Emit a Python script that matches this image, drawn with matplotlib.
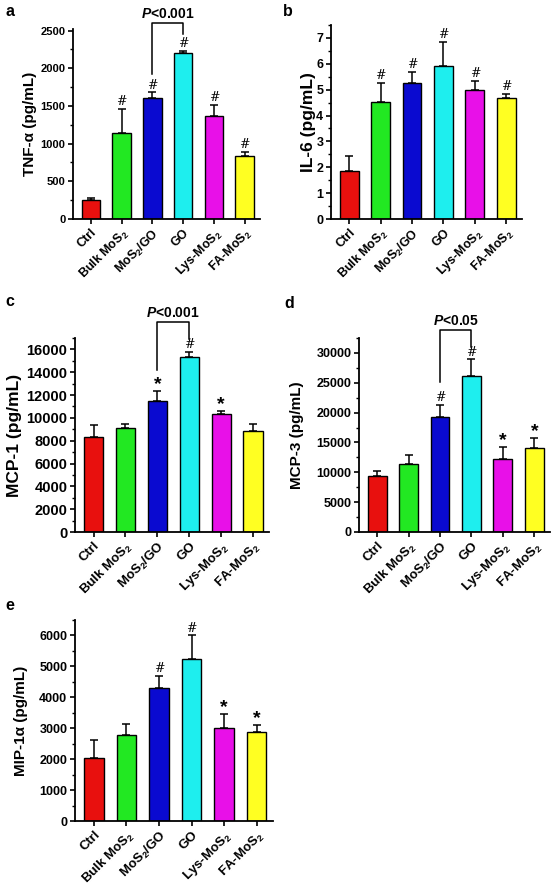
import matplotlib
matplotlib.use('Agg')
import matplotlib.pyplot as plt
from matplotlib.ticker import MultipleLocator, AutoMinorLocator

plt.rcParams['font.family'] = ['Liberation Sans', 'DejaVu Sans']
plt.rcParams['font.weight'] = 'bold'
plt.rcParams['mathtext.fontset'] = 'custom'
plt.rcParams['mathtext.rm'] = 'Liberation Sans:bold'
plt.rcParams['mathtext.bf'] = 'Liberation Sans:bold'
plt.rcParams['mathtext.it'] = 'Liberation Sans:italic:bold'
plt.rcParams['mathtext.default'] = 'regular'

# data
groups = ['Ctrl', 'Bulk MoS$_2$', 'MoS$_2$/GO', 'GO', 'Lys-MoS$_2$', 'FA-MoS$_2$']
colors = ['#E8100E', '#22E822', '#0A0AD0', '#1EEEEE', '#E810E8', '#FFFF22']

tnf = [255, 1140, 1610, 2200, 1370, 830]
tnf_err = [20, 320, 70, 30, 140, 60]
il6 = [1.87, 4.52, 5.25, 5.93, 4.97, 4.67]
il6_err = [0.58, 0.75, 0.45, 0.92, 0.36, 0.18]
mcp1 = [8300, 9100, 11450, 15300, 10300, 8850]
mcp1_err = [1100, 400, 900, 500, 300, 650]
mcp3 = [9400, 11400, 19300, 26200, 12300, 14100]
mcp3_err = [900, 1500, 2000, 2700, 2000, 1700]
mip = [2050, 2770, 4290, 5250, 3020, 2870]
mip_err = [570, 380, 410, 750, 450, 240]

marks_a = ['', '#', '#', '#', '#', '#']
marks_b = ['', '#', '#', '#', '#', '#']
marks_c = ['', '', '*', '#', '*', '']
marks_d = ['', '', '#', '#', '*', '*']
marks_e = ['', '', '#', '#', '*', '*']

W, H = 554, 886
fig = plt.figure(figsize=(W / 100, H / 100), dpi=100)


def make_ax(l, r, b, t):
    return fig.add_axes([l / W, 1 - b / H, (r - l) / W, (b - t) / H])


def panel(ax, vals, errs, marks, ylabel, ylim, major, letter, lpos, ylab_x,
          tick_fs=8, xfs=9, ylab_fs=11, bracket=None):
    x = range(len(vals))
    ax.bar(x, vals, width=0.6, color=colors, edgecolor='black', linewidth=1.0, zorder=2)
    ax.errorbar(x, vals, yerr=[[0] * len(vals), errs], fmt='none', ecolor='black',
                elinewidth=1.1, capsize=3, capthick=1.1, zorder=1)
    for i, m in enumerate(marks):
        if not m:
            continue
        if m == '#':
            ax.annotate('#', (i, vals[i] + errs[i]), xytext=(0, 0.5), textcoords='offset points',
                        ha='center', va='bottom', fontsize=9, fontweight='normal',
                        family='DejaVu Serif')
        else:
            ax.annotate('*', (i, vals[i] + errs[i]), xytext=(0, -1.5), textcoords='offset points',
                        ha='center', va='bottom', fontsize=14, fontweight='bold')
    ax.set_xlim(-0.58, 5.5)
    ax.set_ylim(*ylim)
    ax.yaxis.set_major_locator(MultipleLocator(major))
    ax.yaxis.set_minor_locator(AutoMinorLocator(2))
    ax.spines['top'].set_visible(False)
    ax.spines['right'].set_visible(False)
    ax.spines['left'].set_linewidth(1.3)
    ax.spines['bottom'].set_linewidth(1.3)
    ax.tick_params(axis='both', which='major', length=3.5, width=1.2, labelsize=tick_fs, pad=2)
    ax.tick_params(axis='y', which='minor', length=2, width=1.0)
    ax.set_xticks(list(x))
    ax.set_xticklabels(groups, rotation=45, ha='right', rotation_mode='anchor', fontsize=xfs)
    for lab in ax.get_yticklabels():
        lab.set_fontweight('bold')
    ax.set_ylabel(ylabel, fontsize=ylab_fs, fontweight='bold')
    # ylab_x is the right edge of the rotated label, in pixels
    bb = ax.get_position()
    ax.yaxis.set_label_coords((ylab_x / W - bb.x0) / bb.width, 0.5)
    fig.text(lpos[0] / W, 1 - lpos[1] / H, letter, fontsize=11.5, fontweight='bold',
             ha='left', va='center')
    if bracket is not None:
        lb, rb, top, txt = bracket
        ax.plot([2, 2, 3, 3], [lb, top, top, rb], color='black', lw=1.1, clip_on=False)
        ax.annotate(txt, (2.5, top), xytext=(0, 1.5), textcoords='offset points',
                    ha='center', va='bottom', fontsize=10, fontweight='bold',
                    annotation_clip=False)


ax_a = make_ax(73, 260, 219, 29)
panel(ax_a, tnf, tnf_err, marks_a, 'TNF-α (pg/mL)', (0, 2520), 500, 'a', (5, 12), 37,
      bracket=(1920, 2450, 2605, r'$\mathit{P}$<0.001'))

ax_b = make_ax(331, 522, 219, 25)
panel(ax_b, il6, il6_err, marks_b, 'IL-6 (pg/mL)', (0, 7.5), 1, 'b', (283, 12), 316,
      tick_fs=9, ylab_fs=12.5)

ax_c = make_ax(75, 269, 532, 338)
panel(ax_c, mcp1, mcp1_err, marks_c, 'MCP-1 (pg/mL)', (0, 17000), 2000, 'c', (5, 302), 22,
      tick_fs=10.5, xfs=9.5, ylab_fs=12.5,
      bracket=(14164, 16900, 18400, r'$\mathit{P}$<0.001'))

ax_d = make_ax(359, 550, 532, 338)
panel(ax_d, mcp3, mcp3_err, marks_d, 'MCP-3 (pg/mL)', (0, 32500), 5000, 'd', (284, 303), 304,
      tick_fs=9, xfs=9.5, bracket=(25167, 31000, 33833, r'$\mathit{P}$<0.05'))

ax_e = make_ax(75, 273, 821, 620)
panel(ax_e, mip, mip_err, marks_e, 'MIP-1α (pg/mL)', (0, 6500), 1000, 'e', (5, 605), 28,
      tick_fs=9, xfs=9.5)

fig.savefig('out.png', dpi=100)
